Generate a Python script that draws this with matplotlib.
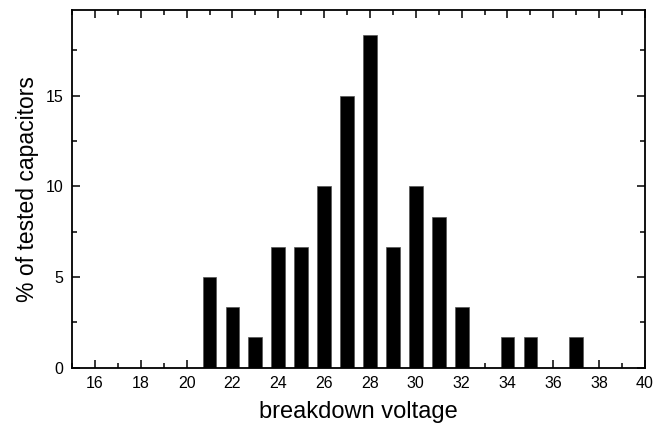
import matplotlib
matplotlib.use("Agg")
import matplotlib.pyplot as plt
from matplotlib.ticker import MultipleLocator

voltage = [21, 22, 23, 24, 25, 26, 27, 28, 29, 30, 31, 32, 34, 35, 37]
percent = [5.0, 3.33, 1.67, 6.67, 6.67, 10.0, 15.0, 18.33, 6.67, 10.0, 8.33, 3.33, 1.67, 1.67, 1.67]
x_ticks = [16, 18, 20, 22, 24, 26, 28, 30, 32, 34, 36, 38, 40]
y_ticks = [0, 5, 10, 15]

plt.rcParams['font.family'] = ['Liberation Sans', 'DejaVu Sans']

fig = plt.figure(figsize=(6.57, 4.23), dpi=100)
ax = fig.add_axes([72/657, 1-367.7/423, (645-72)/657, (367.7-10)/423])

ax.bar(voltage, percent, width=0.6, color='black', edgecolor='#555555', linewidth=0.5)

ax.set_xlim(15, 40)
ax.set_ylim(0, 19.73)
ax.set_xticks(x_ticks)
ax.set_yticks(y_ticks)
ax.xaxis.set_minor_locator(MultipleLocator(1))
ax.yaxis.set_minor_locator(MultipleLocator(2.5))

ax.tick_params(which='both', direction='in', top=True, right=True, width=1.1, labelsize=11.5)
ax.tick_params(which='major', length=6, pad=6)
ax.tick_params(which='minor', length=3.5)
for s in ax.spines.values():
    s.set_linewidth(1.3)

ax.set_xlabel('breakdown voltage', fontsize=17, labelpad=7)
ax.set_ylabel('% of tested capacitors', fontsize=16.5, labelpad=5)

fig.savefig('out.png', dpi=100)
